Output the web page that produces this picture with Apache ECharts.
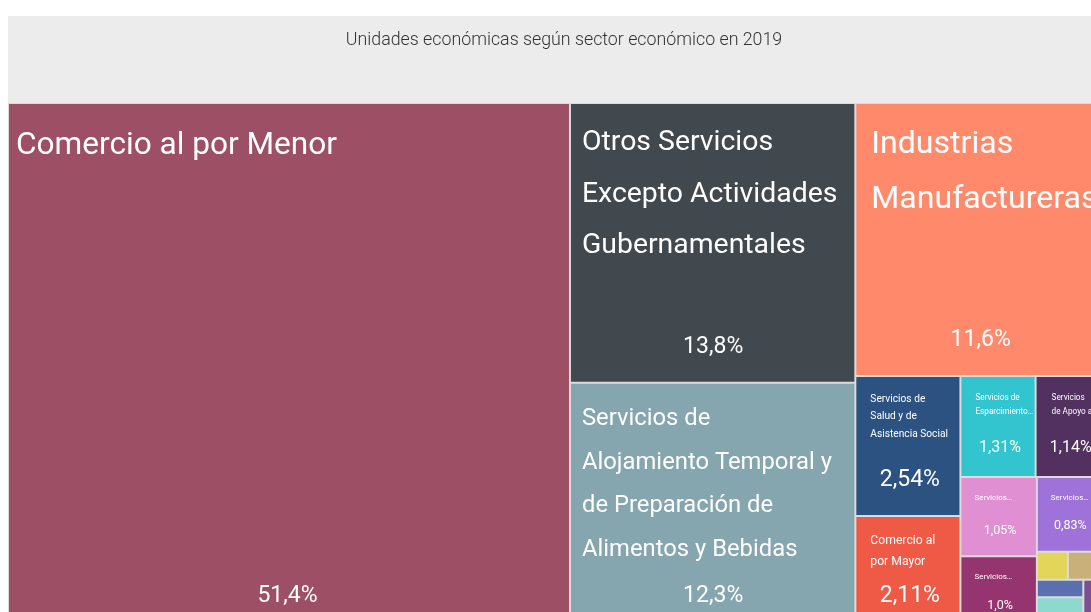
<!DOCTYPE html>
<html>
<head>
<meta charset="utf-8">
<title>Unidades económicas según sector económico en 2019</title>
<script src="https://cdn.jsdelivr.net/npm/echarts@6/dist/echarts.min.js"></script>
<style>
  html, body { margin: 0; padding: 0; background: #fff; overflow: hidden; }
  #chart { position: absolute; left: 8px; top: 16px; width: 1112px; height: 630px; background: #ececec; }
</style>
</head>
<body>
<div id="chart"></div>
<script>
// sectores (mismo orden en todos los arreglos)
const sectors = [
  'Comercio al por Menor',
  'Otros Servicios Excepto Actividades Gubernamentales',
  'Servicios de Alojamiento Temporal y de Preparación de Alimentos y Bebidas',
  'Industrias Manufactureras',
  'Servicios de Salud y de Asistencia Social',
  'Comercio al por Mayor',
  'Servicios de Esparcimiento Culturales y Deportivos',
  'Servicios de Apoyo a los Negocios',
  'Servicios Profesionales, Científicos y Técnicos',
  'Servicios Inmobiliarios y de Alquiler',
  'Servicios Educativos',
  'Transportes, Correos y Almacenamiento',
  'Servicios Financieros y de Seguros',
  'Información en Medios Masivos',
  'Construcción',
  'Agricultura, Cría y Aprovechamiento Forestal'
];
// % de las unidades económicas
const shares = [51.4, 13.8, 12.3, 11.6, 2.54, 2.11, 1.31, 1.14, 1.05, 1.0, 0.83, 0.15, 0.16, 0.14, 0.28, 0.16];
// texto del porcentaje tal como aparece
const shareText = ['51,4%', '13,8%', '12,3%', '11,6%', '2,54%', '2,11%', '1,31%', '1,14%', '1,05%', '1,0%', '0,83%', '', '', '', '', ''];
// nombre como se ve en cada bloque
const blockText = [
  'Comercio al por Menor',
  'Otros Servicios\nExcepto Actividades\nGubernamentales',
  'Servicios de\nAlojamiento Temporal y\nde Preparación de\nAlimentos y Bebidas',
  'Industrias\nManufactureras',
  'Servicios de\nSalud y de\nAsistencia Social',
  'Comercio al\npor Mayor',
  'Servicios de\nEsparcimiento…',
  'Servicios\nde Apoyo a…',
  'Servicios…',
  'Servicios…',
  'Servicios…',
  '', '', '', '', ''
];

const colors = ['#9c4f65', '#41484e', '#85a6ae', '#ff8a6b', '#2c5282', '#ef5a46', '#33c5cf', '#52305f',
  '#e08fd3', '#963470', '#9e72d8', '#e3d55a', '#c9b078', '#5b6fae', '#8dd8cf', '#7c4f92'];
const nameSize = [31.6, 28.4, 23.8, 32.1, 10.2, 12.2, 8.2, 8.2, 8, 8, 8, 0, 0, 0, 0, 0];
const nameLineHeight = [57, 51.5, 43.7, 55, 17.5, 21, 14, 14, 13, 13, 13, 0, 0, 0, 0, 0];
const pctSize = [23, 23, 23, 23, 23, 23, 16, 16, 12.5, 12.5, 12.5, 0, 0, 0, 0, 0];
const padLeft = [7, 11, 11, 15, 14, 14, 14, 15, 13, 13, 13, 12, 12, 12, 12, 12];

// agrupacion de bloques (indices) para que el acomodo siga al original
const nesting = [0, 1, 2, 3, [[4, 5], [6, 7, [[8, 9], [10, 11, 12, 13, 14, 15]]]]];

const FONT = 'Roboto, "Noto Sans", sans-serif';

const chart = echarts.init(document.getElementById('chart'));

function makeLabel(i, box) {
  if (!blockText[i] || !box) return { show: false };
  const ns = nameSize[i], ps = pctSize[i];
  const nlh = nameLineHeight[i];
  const plh = Math.round(ps * 1.2);
  const lines = blockText[i].split('\n');
  const padTop = 13.5;
  const ch = box.height - 2;
  // el porcentaje va centrado, cerca del borde inferior del bloque
  let gap = ch - padTop - lines.length * nlh - plh / 2 - (13 + ps * 0.95);
  gap = Math.max(0, Math.round(gap));
  return {
    show: true,
    position: 'insideTopLeft',
    distance: 0,
    padding: [padTop, 10, 0, padLeft[i]],
    overflow: 'none',
    formatter: lines.map(l => '{n|' + l + '}').join('\n') + '\n{g|}\n{p|' + shareText[i] + '}',
    rich: {
      n: { fontFamily: FONT, fontSize: ns, lineHeight: nlh, color: '#fff', align: 'left' },
      g: { fontSize: 1, lineHeight: gap },
      p: { fontFamily: FONT, fontSize: ps, lineHeight: plh, color: '#fff', align: 'center' }
    }
  };
}

let groupCount = 0;
function build(entry, boxes) {
  if (typeof entry === 'number') {
    return {
      name: sectors[entry],
      value: shares[entry],
      itemStyle: { color: colors[entry], borderColor: '#dcdcdc', borderWidth: 1 },
      label: makeLabel(entry, boxes ? boxes[sectors[entry]] : null)
    };
  }
  groupCount++;
  return {
    name: 'grupo ' + groupCount,
    itemStyle: { borderWidth: 0, gapWidth: 0, borderColor: '#dcdcdc' },
    children: entry.map(e => build(e, boxes))
  };
}

function getOption(boxes) {
  groupCount = 0;
  return {
    animation: false,
    title: {
      text: 'Unidades económicas según sector económico en 2019',
      left: 'center',
      top: 11,
      textStyle: { fontFamily: FONT, fontSize: 17.8, fontWeight: 300, color: '#333' }
    },
    series: [
      {
        type: 'treemap',
        left: 0,
        top: 87,
        width: 1093,
        height: 529,
        roam: false,
        nodeClick: false,
        sort: false,
        squareRatio: 1.3,
        breadcrumb: { show: false },
        itemStyle: { borderWidth: 0, gapWidth: 0, borderColor: '#dcdcdc' },
        upperLabel: { show: false },
        label: { show: true },
        emphasis: { disabled: true },
        data: nesting.map(e => build(e, boxes))
      }
    ]
  };
}

chart.setOption(getOption(null));

// leer el tamaño que le dio el treemap a cada bloque para acomodar los textos
const boxes = {};
try {
  const tree = chart.getModel().getSeriesByIndex(0).getData().tree;
  tree.root.eachNode(node => {
    if (!node.children || !node.children.length) {
      const lay = node.getLayout();
      if (lay) boxes[node.name] = { width: lay.width, height: lay.height };
    }
  });
} catch (e) {
  console.log(e);
}
chart.setOption(getOption(boxes), { notMerge: true });
</script>
</body>
</html>
